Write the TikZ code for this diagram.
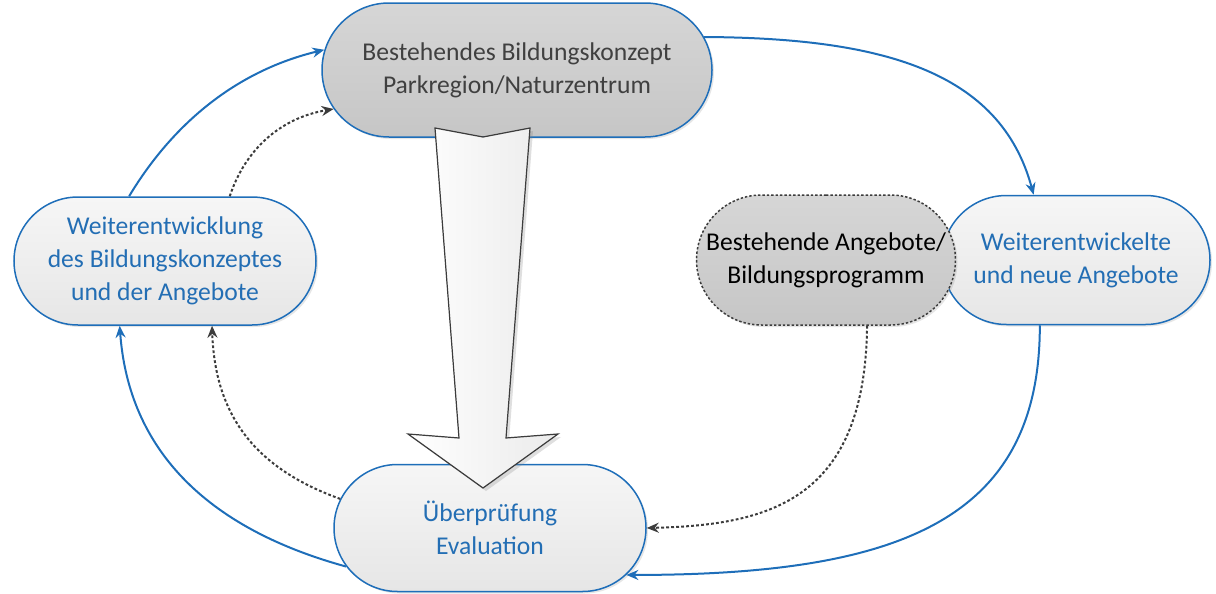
\documentclass[tikz,border=0pt]{standalone}
\usepackage{fontspec}
\setmainfont{Carlito}
\usepackage{xcolor}
\usepackage{tikz}
\usetikzlibrary{shapes.misc,arrows.meta,calc,shadows}

\definecolor{vblue}{RGB}{30,110,185}
\definecolor{vtext}{RGB}{35,110,180}
\definecolor{darktop}{RGB}{214,214,214}
\definecolor{darkbot}{RGB}{198,198,198}
\definecolor{lighttop}{RGB}{246,246,246}
\definecolor{lightbot}{RGB}{230,230,230}
\definecolor{arrowgray}{RGB}{60,60,60}

\begin{document}
\begin{tikzpicture}[
    x=0.5pt, y=-0.5pt,
    stadium/.style={rounded rectangle, draw=vblue, line width=0.75pt, align=center,
        font=\fontsize{12.8}{16.4}\selectfont, inner sep=2pt,
        drop shadow={shadow xshift=1pt, shadow yshift=-1pt, opacity=0.2}},
    darkbox/.style={stadium, top color=darktop, bottom color=darkbot, text=black!75},
    lightbox/.style={stadium, top color=lighttop, bottom color=lightbot, text=vtext},
    dotbox/.style={stadium, draw=arrowgray, dash pattern=on 1.2pt off 1pt,
        top color=darktop, bottom color=darkbot, text=black},
    flow/.style={-{Stealth[length=6pt,width=5pt]}, draw=vblue, line width=1pt},
    dotarrow/.style={-{Stealth[length=6pt,width=5pt]}, draw=arrowgray, line width=1pt,
        dash pattern=on 1.4pt off 1.1pt}
]
    \useasboundingbox (0,0) rectangle (1216,594);

    % Top node
    \node[darkbox, minimum width=199pt, minimum height=67pt] (konzept) at (517,70)
        {Bestehendes Bildungskonzept\\Parkregion/Naturzentrum};

    % Left node
    \node[lightbox, minimum width=155pt, minimum height=64pt] (weiter) at (165,261)
        {Weiterentwicklung\\des Bildungskonzeptes\\und der Angebote};

    % Right nodes (the dotted one lies over the blue one)
    \node[lightbox, minimum width=138pt, minimum height=64.5pt] (neue) at (1076,260)
        {Weiterentwickelte\\und neue Angebote};
    \node[dotbox, minimum width=133.5pt, minimum height=65pt] (angebote) at (826,260)
        {Bestehende Angebote/\\Bildungsprogramm};

    % Bottom node
    \node[lightbox, minimum width=160pt, minimum height=63.5pt] (pruefung) at (490,528)
        {Überprüfung\\Evaluation};

    % Big arrow
    \filldraw[draw=arrowgray, line width=0.6pt, left color=white, right color=black!8,
        drop shadow={shadow xshift=1.5pt, shadow yshift=-1.5pt, opacity=0.25}]
        (435,128) -- (483,137) -- (530,128) -- (506,438) -- (558,434)
        -- (483,488) -- (408,434) -- (459,438) -- cycle;

    % Arrows
    \draw[flow] (weiter.119) .. controls (175,120) and (240,70) .. (konzept.174);
    \draw[dotarrow] (weiter.45) .. controls (245,150) and (280,118) .. (konzept.192);
    \draw[flow] (konzept.10) .. controls (880,38) and (1000,70) .. (neue.123);
    \draw[flow] (neue.241) .. controls (1040,520) and (900,575) .. (pruefung.341);
    \draw[dotarrow] (angebote.302) .. controls (865,500) and (770,525) .. (pruefung.east);
    \draw[flow] (pruefung.195) .. controls (195,525) and (128,440) .. (weiter.235);
    \draw[dotarrow] (pruefung.169) .. controls (260,470) and (215,420) .. (weiter.306);
\end{tikzpicture}
\end{document}
